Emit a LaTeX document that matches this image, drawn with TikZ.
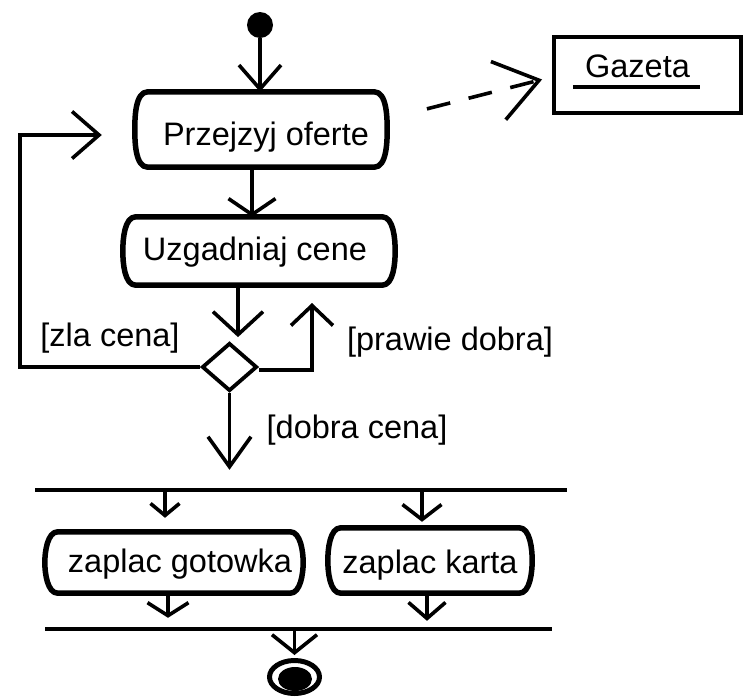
\documentclass[tikz,border=0pt]{standalone}
\usepackage{fontspec}
\setmainfont{Liberation Sans}
\usetikzlibrary{arrows.meta,shapes.geometric}

% outline of an activity: flat top and bottom, bracket-like sides
\newcommand\actoutline[1]{%
  \draw[outline] ([xshift=13pt]#1.north west) -- ([xshift=-13pt]#1.north east)
    to[out=0,in=90,looseness=0.8] (#1.east) to[out=-90,in=0,looseness=0.8] ([xshift=-13pt]#1.south east)
    -- ([xshift=13pt]#1.south west) to[out=180,in=-90,looseness=0.8] (#1.west)
    to[out=90,in=180,looseness=0.8] ([xshift=13pt]#1.north west) -- cycle;}

\begin{document}
\begin{tikzpicture}[x=1pt,y=-1pt,
  txt/.style={font=\fontsize{32.5}{38}\selectfont, inner sep=0pt, anchor=base},
  act/.style 2 args={inner sep=0pt, minimum width=#1, minimum height=#2},
  outline/.style={line width=5.5pt, line join=round},
  bar/.style={fill=black, inner sep=0pt, minimum height=4pt},
  flow/.style 2 args={line width=3.6pt, -{Straight Barb[length=#1,width=#2]}},
  guard/.style={txt}
]
\fill[white] (0,0) rectangle (745,697);
\useasboundingbox (0,0) rectangle (745,697);

% start and end
\node[circle, fill=black, minimum size=26pt, inner sep=0pt] (s) at (260,25) {};
\node[ellipse, draw, line width=5pt, minimum width=50pt, minimum height=33pt, inner sep=0pt] (e) at (294.5,677) {};
\fill (295,679) ellipse [x radius=17pt, y radius=12pt];

% activities
\node[act={252pt}{75pt}] (p) at (261,129.5) {};
\actoutline{p}
\node[txt] (pt) at (266,145) {Przejzyj oferte};

\node[act={272pt}{68pt}] (u) at (259,251) {};
\actoutline{u}
\node[txt] (ut) at (255,260) {Uzgadniaj cene};

\node[act={258pt}{61pt}] (g) at (174,562.5) {};
\actoutline{g}
\node[txt] (gt) at (180,572) {zaplac gotowka};

\node[act={204pt}{65pt}] (k) at (430,560.5) {};
\actoutline{k}
\node[txt] (kt) at (430,573) {zaplac karta};

% object
\node[draw, line width=4.5pt, minimum width=187pt, minimum height=76pt, inner sep=0pt] (gaz) at (647.5,75) {};
\node[txt] (gazt) at (637.5,77) {Gazeta};
\draw[line width=3.5pt] ([xshift=-12pt,yshift=-10pt]gazt.base west) -- ([xshift=10pt,yshift=-10pt]gazt.base east);

% decision
\node[diamond, draw, line width=3.8pt, aspect=1.15, minimum width=55pt, minimum height=48pt, inner sep=0pt] (d) at (229.5,367) {};

% synchronisation bars
\node[bar, minimum width=532pt] (bar1) at (301,490) {};
\node[bar, minimum width=507pt] (bar2) at (298.5,629) {};

% loop corners
\coordinate (loopL) at (20,135);
\coordinate (rtip) at (312,303);

% flows
\draw[flow={24pt}{42pt}] (s) -- (s |- p.north);
\draw[flow={16pt}{47pt}] ([xshift=-9pt]p.south) -- ([xshift=-9pt]p.south |- u.north);
\draw[flow={23pt}{50pt}, shorten >=4pt] ([xshift=-21pt]u.south) -- ([xshift=-21pt]u.south |- d.north);
\draw[flow={30pt}{43pt}, shorten >=18pt] (d.south) -- (d.south |- bar1.north);
\draw[flow={27pt}{47pt}, shorten >=33pt] (d.west) -| (loopL) -- (loopL -| p.west);
\draw[flow={20pt}{42pt}] ([yshift=-3pt]d.east) -| (rtip);

\draw[flow={12pt}{29pt}, shorten >=14pt] ([xshift=-9pt]g.north |- bar1.south) -- ([xshift=-9pt]g.north);
\draw[flow={15pt}{39pt}, shorten >=6pt] ([xshift=-8pt]k.north |- bar1.south) -- ([xshift=-8pt]k.north);
\draw[flow={13pt}{41pt}, shorten >=9pt] ([xshift=-6pt]g.south) -- ([xshift=-6pt]g.south |- bar2.north);
\draw[flow={16pt}{37pt}, shorten >=6pt] ([xshift=-3pt]k.south) -- ([xshift=-3pt]k.south |- bar2.north);
\draw[flow={18pt}{45pt}, shorten >=3pt] (e.north |- bar2.south) -- (e.north);

% dependency on the object
\draw[flow={42pt}{60pt}, dash pattern=on 24pt off 19pt, dash phase=24pt,
      shorten <=22pt, shorten >=10pt] ([yshift=10.5pt]p.east) -- ([yshift=-2pt]gaz.west);

% guards
\node[guard] (lz) at (110,346) {[zla cena]};
\node[guard] (lp) at (450,350) {[prawie dobra]};
\node[guard] (ld) at (357,438) {[dobra cena]};
\end{tikzpicture}
\end{document}
